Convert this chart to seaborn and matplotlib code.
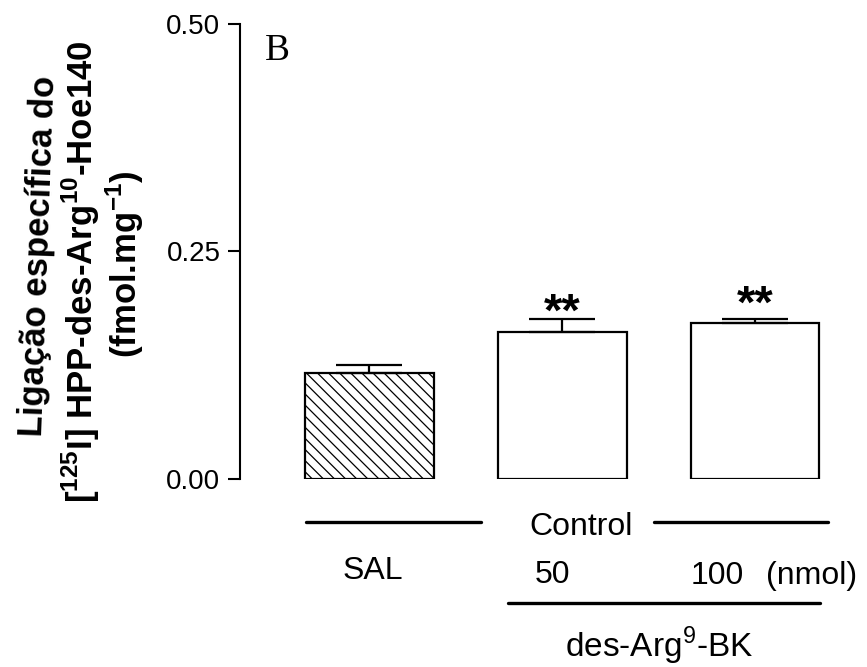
import numpy as np
import seaborn as sns
from matplotlib import pyplot as plt

groups = ["SAL", "50", "100"]
means = [0.116, 0.161, 0.171]
sems = [0.0093, 0.0145, 0.0047]
stars = ["", "**", "**"]
star_base = [0.0, 0.168, 0.177]
yticks = [0.00, 0.25, 0.50]
ylabel_lines = ["Ligação específica do",
                "[$^{\\mathbf{125}}$I] HPP-des-Arg$^{\\mathbf{10}}$-Hoe140",
                "(fmol.mg$^{\\mathbf{-1}}$)"]

sns.set_style("ticks")
plt.rcParams['font.family'] = ['Liberation Sans', 'DejaVu Sans']
plt.rcParams['text.color'] = 'black'
plt.rcParams['axes.labelcolor'] = 'black'
plt.rcParams['ytick.color'] = 'black'
plt.rcParams['axes.edgecolor'] = 'black'
plt.rcParams['mathtext.fontset'] = 'custom'
plt.rcParams['mathtext.rm'] = 'Liberation Sans'
plt.rcParams['mathtext.bf'] = 'Liberation Sans:bold'
plt.rcParams['hatch.linewidth'] = 0.9

fig = plt.figure(figsize=(8.67, 6.67), dpi=100)
ax = fig.add_axes([0.2768, 0.2826, 0.694, 0.682])

sns.barplot(x=groups, y=means, color="white", edgecolor="black",
            linewidth=1.6, width=0.668, errorbar=None, ax=ax)
ax.patches[0].set_hatch('\\\\\\')

pos = np.arange(len(groups))
ax.errorbar(pos, means, yerr=[np.zeros(len(sems)), sems], fmt='none',
            ecolor='black', elinewidth=1.6, capsize=23.5, capthick=1.6)
for x, st, yb in zip(pos, stars, star_base):
    if st:
        ax.text(x, yb, st, ha='center', va='baseline',
                fontsize=34, fontweight='bold')

ax.set_xlim(-0.671, 2.45)
ax.set_ylim(0, 0.5)
ax.set_yticks(yticks)
ax.set_yticklabels([f"{v:.2f}" for v in yticks], fontsize=20)
ax.tick_params(axis='y', length=8.6, width=1.5, pad=5.5)
ax.tick_params(axis='x', length=0, labelbottom=False)
ax.set_xlabel("")
ax.set_ylabel("")
sns.despine(ax=ax, bottom=True)
ax.spines['left'].set_linewidth(1.5)

# y label, three lines (first one slightly tilted as in the scan)
for (xb, yc, rot), line in zip([(48.5, 256, 88.0), (93, 272, 90), (137, 264, 90)],
                               ylabel_lines):
    fig.text(xb / 867, 1 - yc / 667, line, fontsize=25, fontweight='bold',
             rotation=rot, rotation_mode='anchor', ha='center', va='baseline')

ax.text(0.0415, 0.92, "B", fontsize=27, family='Liberation Serif',
        ha='left', va='baseline', transform=ax.transAxes)

# group annotations below the bars
ax.plot([-0.329, 0.578], [-0.0478, -0.0478], color='black', lw=2.4, clip_on=False)
ax.plot([1.479, 2.381], [-0.0478, -0.0478], color='black', lw=2.4, clip_on=False)
ax.plot([0.718, 2.339], [-0.1368, -0.1368], color='black', lw=2.4, clip_on=False)
ax.text(1.098, -0.062, "Control", fontsize=23, ha='center', va='baseline')
ax.text(0.02, -0.1104, "SAL", fontsize=23, ha='center', va='baseline')
ax.text(0.951, -0.1148, "50", fontsize=23, ha='center', va='baseline')
ax.text(1.803, -0.116, "100", fontsize=23, ha='center', va='baseline')
ax.text(2.295, -0.116, "(nmol)", fontsize=23, ha='center', va='baseline')
ax.text(1.505, -0.196, "des-Arg$^{9}$-BK", fontsize=24, ha='center', va='baseline')

fig.savefig("out.png", dpi=100)
